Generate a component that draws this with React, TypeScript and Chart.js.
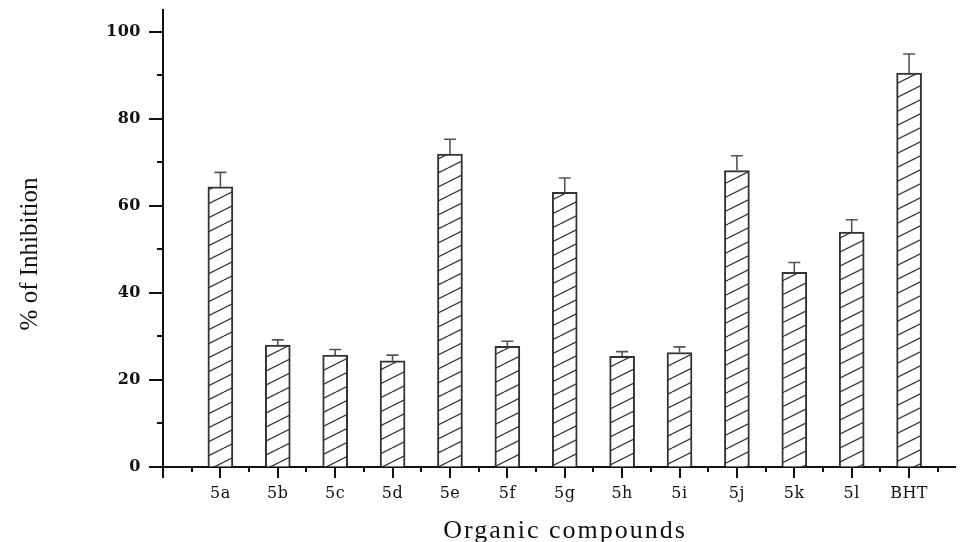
import React, { useEffect, useRef } from 'react';
import { Chart, registerables } from 'chart.js';

Chart.register(...registerables);

const categories = ['5a', '5b', '5c', '5d', '5e', '5f', '5g', '5h', '5i', '5j', '5k', '5l', 'BHT'];
const inhibition = [64.4, 28.0, 25.7, 24.4, 71.9, 27.7, 63.1, 25.4, 26.3, 68.1, 44.7, 54.0, 90.5];
const errors = [3.3, 1.2, 1.3, 1.3, 3.4, 1.2, 3.3, 1.1, 1.3, 3.4, 2.3, 2.8, 4.4];
const yTickValues = [0, 20, 40, 60, 80, 100];
const xTitle = 'Organic compounds';
const yTitle = '% of Inhibition';

function makeHatch(): CanvasPattern | string {
  const c = document.createElement('canvas');
  const w = 28;
  const h = 14;
  c.width = w;
  c.height = h;
  const g = c.getContext('2d');
  if (!g) return '#fff';
  g.fillStyle = '#ffffff';
  g.fillRect(0, 0, w, h);
  g.strokeStyle = '#3a3a3a';
  g.lineWidth = 1.3;
  for (let n = -1; n <= 1; n++) {
    g.beginPath();
    g.moveTo(0, h + n * h);
    g.lineTo(w, n * h);
    g.stroke();
  }
  return g.createPattern(c, 'repeat') || '#fff';
}

const decorPlugin = {
  id: 'decor',
  beforeDraw(chart: any) {
    chart.ctx.letterSpacing = '0.5px';
  },
  afterDatasetsDraw(chart: any) {
    const { ctx, scales } = chart;
    const y = scales.y;
    const meta = chart.getDatasetMeta(0);
    ctx.save();
    ctx.strokeStyle = '#555';
    ctx.lineWidth = 1.6;
    inhibition.forEach((v, i) => {
      const el = meta.data[i];
      if (!el) return;
      const px = el.x;
      const y0 = y.getPixelForValue(v);
      const y1 = y.getPixelForValue(v + errors[i]);
      ctx.beginPath();
      ctx.moveTo(px, y0);
      ctx.lineTo(px, y1);
      ctx.moveTo(px - 6, y1);
      ctx.lineTo(px + 6, y1);
      ctx.stroke();
    });
    ctx.restore();
  },
  afterDraw(chart: any) {
    const { ctx, chartArea, scales } = chart;
    const x = scales.x;
    const y = scales.y;
    ctx.save();
    ctx.letterSpacing = '0px';
    ctx.strokeStyle = '#111';
    ctx.lineWidth = 2;
    for (let v = 0; v <= 100; v += 10) {
      const py = Math.round(y.getPixelForValue(v));
      const len = v % 20 === 0 ? 14 : 6;
      ctx.beginPath();
      ctx.moveTo(chartArea.left - len, py);
      ctx.lineTo(chartArea.left, py);
      ctx.stroke();
    }
    for (let k = 0; k <= 27; k++) {
      const v = k / 2;
      const px = Math.round(x.getPixelForValue(v));
      const len = k % 2 === 0 ? 11 : 5;
      ctx.beginPath();
      ctx.moveTo(px, chartArea.bottom);
      ctx.lineTo(px, chartArea.bottom + len);
      ctx.stroke();
    }
    ctx.fillStyle = '#111';
    ctx.font = '26px "Liberation Serif", serif';
    ctx.textAlign = 'center';
    ctx.textBaseline = 'alphabetic';
    ctx.letterSpacing = '2px';
    ctx.fillText(xTitle, 565, 538);
    ctx.letterSpacing = '0px';
    ctx.font = '25px "Liberation Serif", serif';
    ctx.translate(37, 254);
    ctx.rotate(-Math.PI / 2);
    ctx.fillText(yTitle, 0, 0);
    ctx.restore();
    ctx.letterSpacing = '0px';
  },
};

export default function App() {
  const canvasRef = useRef<HTMLCanvasElement | null>(null);

  useEffect(() => {
    const canvas = canvasRef.current;
    if (!canvas) return;
    const hatch = makeHatch();
    const chart = new Chart(canvas, {
      type: 'bar',
      data: {
        datasets: [
          {
            data: inhibition.map((v, i) => ({ x: i + 1, y: v })),
            backgroundColor: hatch as any,
            borderColor: '#333',
            borderWidth: 2,
            barThickness: 25,
          },
        ],
      },
      options: {
        animation: false,
        responsive: true,
        maintainAspectRatio: false,
        layout: { padding: { left: 0, right: 6, top: 10, bottom: 0 } },
        plugins: {
          legend: { display: false },
          tooltip: { enabled: false },
        },
        scales: {
          x: {
            type: 'linear',
            offset: false,
            min: 0,
            max: 13.8,
            afterBuildTicks: (s: any) => {
              s.ticks = [0, ...categories.map((_, i) => i + 1)].map((v) => ({ value: v }));
            },
            afterFit: (s: any) => {
              s.height = 75;
              s.paddingLeft = 0;
              s.paddingRight = 0;
            },
            grid: { display: true, offset: false, drawOnChartArea: false, drawTicks: false },
            border: { display: true, color: '#111', width: 2 },
            ticks: {
              autoSkip: false,
              maxRotation: 0,
              padding: 17,
              color: '#111',
              font: { family: '"DejaVu Serif", serif', size: 16 },
              callback: (val: any) => {
                const n = Number(val);
                if (Number.isInteger(n) && n >= 1 && n <= categories.length) return categories[n - 1];
                return '';
              },
            },
          },
          y: {
            type: 'linear',
            min: 0,
            max: 105,
            afterBuildTicks: (s: any) => {
              s.ticks = yTickValues.map((v) => ({ value: v }));
            },
            afterFit: (s: any) => {
              s.width = 163;
              s.paddingTop = 0;
              s.paddingBottom = 0;
            },
            grid: { display: true, drawOnChartArea: false, drawTicks: false },
            border: { display: true, color: '#111', width: 2 },
            ticks: {
              padding: 22,
              color: '#111',
              font: { family: '"DejaVu Serif", serif', size: 16, weight: 'bold' },
              callback: (val: any) => String(val),
            },
          },
        },
      },
      plugins: [decorPlugin],
    });
    return () => chart.destroy();
  }, []);

  return (
    <div style={{ position: 'absolute', left: 0, top: 0, width: 961, height: 542, background: '#fff' }}>
      <canvas ref={canvasRef} />
    </div>
  );
}
